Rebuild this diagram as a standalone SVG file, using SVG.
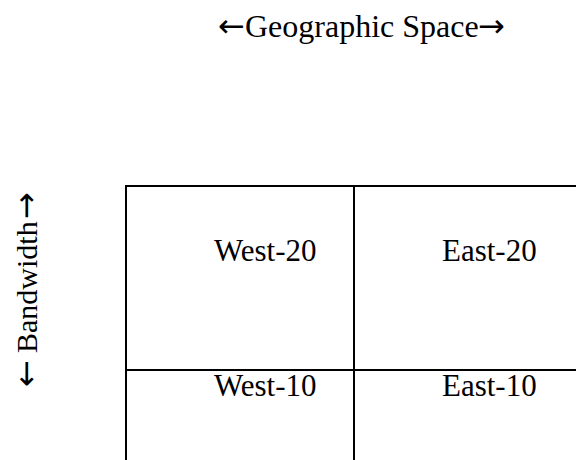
<svg xmlns="http://www.w3.org/2000/svg" width="576" height="460" viewBox="0 0 576 460">
  <style>
    .lbl { font-family: "Liberation Serif", "Times New Roman", serif; font-size: 31px; fill: #000; }
    .ttl { font-size: 32px; }
    .arr { font-family: "DejaVu Sans", sans-serif; font-size: 32px; }
    .grid { stroke: #000; stroke-width: 2; fill: none; }
  </style>
  <rect width="576" height="460" fill="#fff"/>

  <!-- axis titles -->
  <g id="axis-geo">
    <text class="lbl ttl" y="37"><tspan class="arr" x="218">←</tspan><tspan x="245">Geographic Space</tspan><tspan class="arr" x="478">→</tspan></text>
  </g>
  <g id="axis-bw">
    <text class="lbl" font-size="30" transform="translate(37,386) rotate(-90)"><tspan class="arr" x="-1">←</tspan><tspan x="33" font-size="30">Bandwidth</tspan><tspan class="arr" x="167">→</tspan></text>
  </g>

  <!-- grid lines -->
  <g id="grid">
    <line class="grid" x1="125" y1="186" x2="576" y2="186"/>
    <line class="grid" x1="125" y1="370" x2="576" y2="370"/>
    <line class="grid" x1="126" y1="185" x2="126" y2="460"/>
    <line class="grid" x1="354" y1="185" x2="354" y2="460"/>
  </g>

  <!-- cells -->
  <g id="west-20"><text class="lbl" x="214" y="261">West-20</text></g>
  <g id="east-20"><text class="lbl" x="442" y="261">East-20</text></g>
  <g id="west-10"><text class="lbl" x="214" y="396">West-10</text></g>
  <g id="east-10"><text class="lbl" x="442" y="396">East-10</text></g>
</svg>
